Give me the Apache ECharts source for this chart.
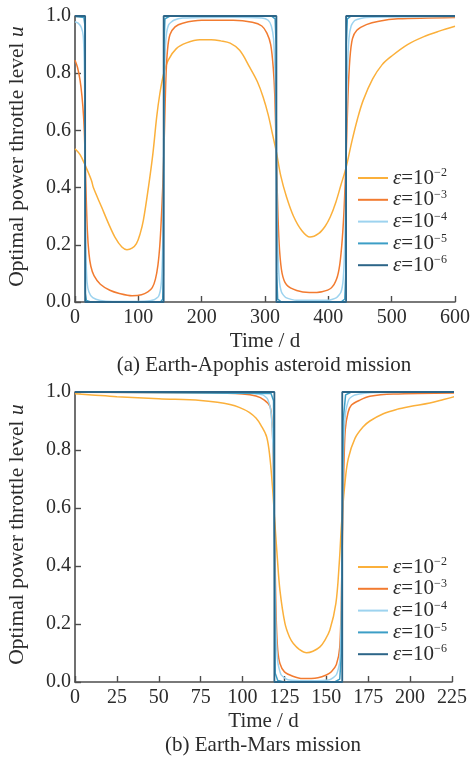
<!DOCTYPE html>
<html>
<head>
<meta charset="utf-8">
<script src="https://cdn.jsdelivr.net/npm/echarts@6/dist/echarts.min.js"></script>
<style>
  html, body { margin: 0; padding: 0; background: #fff; }
  #chart { width: 471px; height: 759px; }
</style>
</head>
<body>
<div id="chart"></div>
<script>
// Smoothing parameter exponents, one curve per value of epsilon
const epsExponents = [-2, -3, -4, -5, -6];
const seriesColors = ['#FBB03B', '#F27B30', '#9DD3EF', '#3C9EC6', '#2C6588'];

// (a) Earth-Apophis asteroid mission: time (d) and throttle level u
const apophisT_e2 = [0, 8, 16, 26, 29, 42, 53, 63, 74, 82, 90, 97, 103, 108, 116, 123, 129, 134, 139.5, 147, 160, 176, 197, 215, 230, 245, 260, 276, 288, 297, 305, 312, 318, 325, 334, 345, 358, 371, 385, 395, 403, 412, 420, 428, 437, 446, 455, 470, 485, 500, 525, 550, 575, 600];
const apophisU_e2 = [0.536, 0.515, 0.478, 0.425, 0.4, 0.332, 0.274, 0.227, 0.192, 0.183, 0.188, 0.204, 0.24, 0.286, 0.402, 0.519, 0.647, 0.729, 0.793, 0.845, 0.886, 0.906, 0.917, 0.917, 0.913, 0.905, 0.88, 0.82, 0.77, 0.717, 0.655, 0.585, 0.524, 0.44, 0.367, 0.3, 0.25, 0.227, 0.24, 0.265, 0.297, 0.35, 0.41, 0.47, 0.56, 0.64, 0.705, 0.78, 0.83, 0.86, 0.9, 0.927, 0.947, 0.964];

const apophisT_e3 = [0, 4, 8, 11, 13.5, 15, 16, 17.5, 19.5, 22, 25, 30, 40, 55, 70, 90, 105, 115, 122, 127, 131, 134, 136.5, 138.5, 140, 141.5, 143.5, 146, 150, 158, 170, 200, 250, 280, 295, 303, 309, 313, 315.5, 318, 320.5, 323, 327, 334, 350, 370, 390, 405, 413, 418, 422, 425, 428, 431, 434, 438, 445, 460, 480, 510, 600];
const apophisU_e3 = [0.845, 0.82, 0.775, 0.72, 0.65, 0.58, 0.5, 0.38, 0.25, 0.17, 0.125, 0.092, 0.062, 0.041, 0.03, 0.022, 0.025, 0.035, 0.05, 0.08, 0.13, 0.2, 0.3, 0.4, 0.5, 0.62, 0.78, 0.88, 0.935, 0.962, 0.975, 0.985, 0.985, 0.978, 0.965, 0.94, 0.9, 0.82, 0.72, 0.5, 0.3, 0.18, 0.1, 0.06, 0.04, 0.033, 0.036, 0.05, 0.08, 0.13, 0.22, 0.33, 0.5, 0.72, 0.85, 0.92, 0.95, 0.97, 0.982, 0.99, 0.995];

const apophisT_e4 = [0, 5, 10, 13, 14.5, 15.5, 16, 16.5, 17.5, 19, 22, 28, 40, 60, 110, 125, 132, 136, 138, 139.3, 140, 140.7, 142, 144, 148, 156, 170, 250, 295, 305, 310, 313.5, 316, 317, 318, 319, 320, 322.5, 326, 333, 350, 400, 413, 420, 423.5, 426, 427, 428, 429, 430, 432.5, 436, 442, 460, 600];
const apophisU_e4 = [0.98, 0.975, 0.96, 0.93, 0.85, 0.7, 0.5, 0.3, 0.15, 0.07, 0.035, 0.015, 0.005, 0.002, 0.003, 0.008, 0.02, 0.06, 0.15, 0.3, 0.5, 0.7, 0.85, 0.93, 0.97, 0.985, 0.993, 0.996, 0.993, 0.985, 0.965, 0.92, 0.8, 0.68, 0.5, 0.32, 0.2, 0.08, 0.035, 0.015, 0.006, 0.006, 0.015, 0.035, 0.08, 0.2, 0.32, 0.5, 0.68, 0.8, 0.92, 0.965, 0.985, 0.995, 0.998];

const apophisT_e5 = [0, 14, 15.5, 16, 16.5, 18, 25, 135, 138.5, 139.5, 140, 140.5, 142, 150, 310, 316, 317.5, 318, 318.5, 320, 326, 420, 426, 427.5, 428, 428.5, 430, 436, 600];
const apophisU_e5 = [0.999, 0.995, 0.97, 0.5, 0.03, 0.005, 0, 0, 0.01, 0.1, 0.5, 0.9, 0.99, 1, 1, 0.99, 0.9, 0.5, 0.1, 0.01, 0, 0, 0.01, 0.1, 0.5, 0.9, 0.99, 1, 1];

const apophisT_e6 = [0, 16, 16, 140, 140, 318, 318, 428, 428, 600];
const apophisU_e6 = [1, 1, 0, 0, 1, 1, 0, 0, 1, 1];

// (b) Earth-Mars mission: time (d) and throttle level u
const marsT_e2 = [0, 10, 25, 50, 75, 85, 92.5, 98, 104, 108, 111, 114.4, 116.3, 118, 119.3, 120.7, 122.3, 125.3, 128, 130.3, 134, 138.2, 142, 146.2, 149, 152.1, 155.7, 157.7, 159.1, 161.1, 163.1, 167.1, 172, 176, 184, 192, 200, 211.8, 220, 229.7];
const marsU_e2 = [0.994, 0.99, 0.984, 0.977, 0.971, 0.965, 0.957, 0.947, 0.93, 0.91, 0.885, 0.845, 0.775, 0.662, 0.547, 0.432, 0.317, 0.202, 0.155, 0.133, 0.112, 0.101, 0.106, 0.121, 0.143, 0.179, 0.271, 0.409, 0.547, 0.686, 0.77, 0.84, 0.88, 0.9, 0.925, 0.94, 0.95, 0.962, 0.974, 0.989];

const marsT_e3 = [0, 80, 100, 108, 113, 116.4, 117.5, 118.2, 119, 119.6, 120.2, 121, 122.3, 125, 130, 136, 145, 150, 153, 156, 158, 159, 159.6, 160.4, 161.3, 163, 165, 170, 176, 190, 229.7];
const marsU_e3 = [0.999, 0.997, 0.993, 0.986, 0.972, 0.95, 0.9, 0.8, 0.55, 0.35, 0.2, 0.11, 0.064, 0.035, 0.02, 0.012, 0.015, 0.024, 0.035, 0.06, 0.12, 0.3, 0.5, 0.72, 0.87, 0.93, 0.955, 0.972, 0.985, 0.993, 0.997];

const marsT_e4 = [0, 100, 112, 115, 117, 118.2, 119, 119.8, 121, 123, 127, 140, 152, 156, 158, 158.8, 159.5, 160.2, 161.5, 163.5, 167, 180, 229.7];
const marsU_e4 = [0.999, 0.998, 0.99, 0.975, 0.93, 0.8, 0.5, 0.2, 0.07, 0.025, 0.008, 0.004, 0.008, 0.025, 0.07, 0.2, 0.5, 0.8, 0.93, 0.975, 0.99, 0.998, 0.999];

const marsT_e5 = [0, 117, 118.5, 119, 119.5, 121, 125, 155, 158, 159, 159.5, 160, 161.5, 165, 229.7];
const marsU_e5 = [1, 0.995, 0.97, 0.5, 0.03, 0.005, 0, 0, 0.01, 0.1, 0.5, 0.9, 0.99, 1, 1];

const marsT_e6 = [0, 119, 119, 159.5, 159.5, 229.7];
const marsU_e6 = [1, 1, 0, 0, 1, 1];

// Axis ticks
const apophisTicks = { min: 0, max: 600, interval: 100 };
const marsTicks = { min: 0, max: 225, interval: 25 };
const uTicks = { min: 0, max: 1, interval: 0.2 };

const apophisSets = [[apophisT_e2, apophisU_e2], [apophisT_e3, apophisU_e3], [apophisT_e4, apophisU_e4], [apophisT_e5, apophisU_e5], [apophisT_e6, apophisU_e6]];
const marsSets = [[marsT_e2, marsU_e2], [marsT_e3, marsU_e3], [marsT_e4, marsU_e4], [marsT_e5, marsU_e5], [marsT_e6, marsU_e6]];

const FONT = '"Liberation Serif", "DejaVu Serif", serif';
const TEXT_COLOR = '#2b2b2b';
const AXIS_COLOR = '#4d4d4d';
const smoothing = [0.35, 0.3, 0.2, false, false];

const seriesName = (e) => 'eps' + e;
const zip = (ts, us) => ts.map((t, i) => [t, us[i]]);

function buildSeries(sets, axisIndex) {
  return sets.map((pair, k) => ({
    type: 'line',
    name: seriesName(epsExponents[k]),
    xAxisIndex: axisIndex,
    yAxisIndex: axisIndex,
    data: zip(pair[0], pair[1]),
    symbol: 'none',
    smooth: smoothing[k],
    clip: false,
    z: 2 + k,
    lineStyle: { color: seriesColors[k], width: k === 4 ? 1.8 : 1.5 },
    itemStyle: { color: seriesColors[k] },
    emphasis: { disabled: true }
  }));
}

function legendFor(top) {
  return {
    orient: 'vertical',
    left: 358,
    top: top,
    padding: 0,
    itemGap: 0.3,
    itemWidth: 30,
    itemHeight: 2,
    icon: 'rect',
    selectedMode: false,
    data: epsExponents.map(seriesName),
    formatter: (name) => {
      const e = name.replace('eps', '');
      return '{e|ε}{n|=10}{s|' + e.replace('-', '−') + '}';
    },
    textStyle: {
      fontFamily: FONT,
      color: TEXT_COLOR,
      rich: {
        e: { fontFamily: FONT, fontSize: 21, fontStyle: 'italic', color: TEXT_COLOR, lineHeight: 22 },
        n: { fontFamily: FONT, fontSize: 21, color: TEXT_COLOR, lineHeight: 22 },
        s: { fontFamily: FONT, fontSize: 12, color: TEXT_COLOR, lineHeight: 9, verticalAlign: 'top' }
      }
    }
  };
}

function xAxisFor(ticks, gridIndex) {
  return {
    type: 'value',
    gridIndex: gridIndex,
    min: ticks.min, max: ticks.max, interval: ticks.interval,
    name: 'Time / d',
    nameLocation: 'middle',
    nameGap: 29,
    nameTextStyle: { fontFamily: FONT, fontSize: 21, color: TEXT_COLOR },
    axisLine: { show: true, onZero: false, lineStyle: { color: AXIS_COLOR, width: 1.6 } },
    axisTick: { show: true, inside: true, length: 6, lineStyle: { color: AXIS_COLOR, width: 1.4 } },
    axisLabel: { margin: 6, fontFamily: FONT, fontSize: 20, color: TEXT_COLOR },
    splitLine: { show: false }
  };
}

function yAxisFor(gridIndex) {
  return {
    type: 'value',
    gridIndex: gridIndex,
    min: uTicks.min, max: uTicks.max, interval: uTicks.interval,
    name: 'Optimal power throttle level {i|u}',
    nameLocation: 'middle',
    nameGap: 47,
    nameTextStyle: {
      fontFamily: FONT, fontSize: 21.5, color: TEXT_COLOR, padding: [0, 0, 0, 5],
      rich: { i: { fontFamily: FONT, fontSize: 21.5, fontStyle: 'italic', color: TEXT_COLOR } }
    },
    axisLine: { show: true, onZero: false, lineStyle: { color: AXIS_COLOR, width: 1.6 } },
    axisTick: { show: true, inside: true, length: 6, lineStyle: { color: AXIS_COLOR, width: 1.4 } },
    axisLabel: { margin: 4, fontFamily: FONT, fontSize: 20, color: TEXT_COLOR, formatter: (v) => v.toFixed(1) },
    splitLine: { show: false }
  };
}

const chart = echarts.init(document.getElementById('chart'), null, { renderer: 'canvas' });
chart.setOption({
  backgroundColor: '#ffffff',
  animation: false,
  title: [
    { text: '(a) Earth-Apophis asteroid mission', left: 264, top: 355, textAlign: 'center', padding: 0,
      textStyle: { fontFamily: FONT, fontSize: 21, fontWeight: 'normal', color: TEXT_COLOR } },
    { text: '(b) Earth-Mars mission', left: 263, top: 735, textAlign: 'center', padding: 0,
      textStyle: { fontFamily: FONT, fontSize: 21, fontWeight: 'normal', color: TEXT_COLOR } }
  ],
  legend: [legendFor(167), legendFor(556)],
  grid: [
    { left: 75, right: 16, top: 16, height: 286, outerBoundsMode: 'none' },
    { left: 75, right: 19, top: 392, height: 290, outerBoundsMode: 'none' }
  ],
  xAxis: [xAxisFor(apophisTicks, 0), xAxisFor(marsTicks, 1)],
  yAxis: [yAxisFor(0), yAxisFor(1)],
  series: buildSeries(apophisSets, 0).concat(buildSeries(marsSets, 1))
});
</script>
</body>
</html>
